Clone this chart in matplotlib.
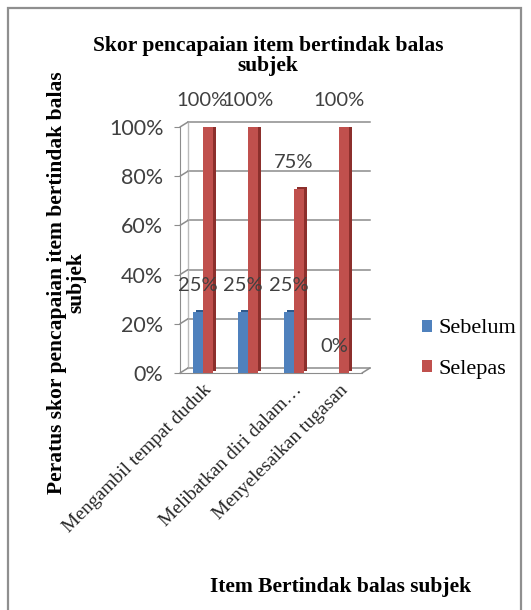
import matplotlib
matplotlib.use("Agg")
from matplotlib import pyplot as plt
from matplotlib import patheffects, transforms
from matplotlib.patches import Rectangle, Patch
import numpy as np

# Data: share of response items achieved, before and after
categories = ["Mengambil tempat duduk", "", "Melibatkan diri dalam\u2026", "Menyelesaikan tugasan"]
sebelum = [0.25, 0.25, 0.25, 0.0]
selepas = [1.00, 1.00, 0.75, 1.00]
y_ticks = [0.0, 0.2, 0.4, 0.6, 0.8, 1.0]
y_ticklabels = ["0%", "20%", "40%", "60%", "80%", "100%"]

blue = "#4F81BD"
red = "#C0504D"
grid_grey = "#8C8C8C"
text_grey = "#404040"
serif = "Liberation Serif"
sans = "Lato"

W, H = 531, 610
fig = plt.figure(figsize=(W / 100, H / 100), dpi=100)

# outer chart frame
fig.patches.append(Rectangle((8 / W, -0.02), 513 / W, 1 - 8 / H + 0.02, transform=fig.transFigure,
                             fill=False, edgecolor="#8F8F8F", linewidth=1.6))

ax = fig.add_axes([180 / W, (H - 373) / H, 182 / W, 246 / H])
x = np.arange(len(categories))
bw = 0.22

# back wall: gridlines shifted up/right to fake depth
back = transforms.offset_copy(ax.get_yaxis_transform(), fig=fig, x=8, y=5, units="dots")
front = ax.get_yaxis_transform()
for v in y_ticks:
    ax.plot([0, 1], [v, v], transform=back, color=grid_grey, lw=1.1, clip_on=False, zorder=0)
    ax.annotate("", xy=(0, v), xycoords=back, xytext=(0, v), textcoords=front,
                arrowprops=dict(arrowstyle="-", color=grid_grey, lw=1.1, shrinkA=0, shrinkB=0))
ax.plot([0, 0], [0, 1], transform=back, color="#BBBBBB", lw=1, clip_on=False, zorder=0)
ax.annotate("", xy=(1, 0), xycoords=back, xytext=(1, 0), textcoords=front,
            arrowprops=dict(arrowstyle="-", color=grid_grey, lw=1.1, shrinkA=0, shrinkB=0))


def depth(dark):
    return [patheffects.SimplePatchShadow(offset=(2.2, 1.4), shadow_rgbFace=dark, alpha=1.0),
            patheffects.Normal()]


b1 = ax.bar(x - bw / 2, sebelum, bw, color=blue, zorder=3)
b2 = ax.bar(x + bw / 2, selepas, bw, color=red, zorder=3)
for p in b1:
    p.set_path_effects(depth("#2F5A8C"))
for p in b2:
    p.set_path_effects(depth("#8C2F2C"))

for xi, v in zip(x, sebelum):
    ax.annotate(f"{v:.0%}", (xi - bw / 2, v), xytext=(0, 19), textcoords="offset points",
                ha="center", va="center", fontsize=14.5, family=sans, color=text_grey, zorder=5)
for xi, v in zip(x, selepas):
    ax.annotate(f"{v:.0%}", (xi + bw / 2, v), xytext=(-4, 19), textcoords="offset points",
                ha="center", va="center", fontsize=14.5, family=sans, color=text_grey, zorder=5)

ax.set_xlim(-0.5, 3.5)
ax.set_ylim(0, 1)
ax.set_yticks(y_ticks)
ax.set_yticklabels(y_ticklabels, fontsize=15.5, family=sans, color=text_grey)
ax.set_xticks(x)
ax.set_xticklabels(categories, rotation=45, ha="right", rotation_mode="anchor",
                   fontsize=14, family=serif, color="#262626")
ax.tick_params(axis="y", length=4, color=grid_grey, pad=8)
ax.tick_params(axis="x", length=0, pad=6)
ax.set_facecolor("none")
for s in ["top", "right"]:
    ax.spines[s].set_visible(False)
ax.spines["left"].set_color(grid_grey)
ax.spines["bottom"].set_color(grid_grey)

fig.text(268 / W, 1 - 56 / H, "Skor pencapaian item bertindak balas\nsubjek", ha="center", va="center",
         fontsize=15.5, fontweight="bold", family=serif, linespacing=1.05)
fig.text(67 / W, 1 - 283 / H, "Peratus skor pencapaian item bertindak balas\nsubjek", rotation=90,
         ha="center", va="center", fontsize=15.5, fontweight="bold", family=serif, linespacing=0.95)
fig.text(341 / W, 1 - 587 / H, "Item Bertindak balas subjek", ha="center", va="center",
         fontsize=15.5, fontweight="bold", family=serif)

# flat legend swatches
handles = [Patch(facecolor=blue), Patch(facecolor=red)]
fig.legend(handles=handles, labels=["Sebelum", "Selepas"], loc="center left",
           bbox_to_anchor=(402 / W, 1 - 349 / H), frameon=False, handlelength=0.45, handleheight=0.45,
           handletextpad=0.3, labelspacing=0.95, prop=dict(family=serif, size=16))

fig.savefig("out.png", dpi=100)
